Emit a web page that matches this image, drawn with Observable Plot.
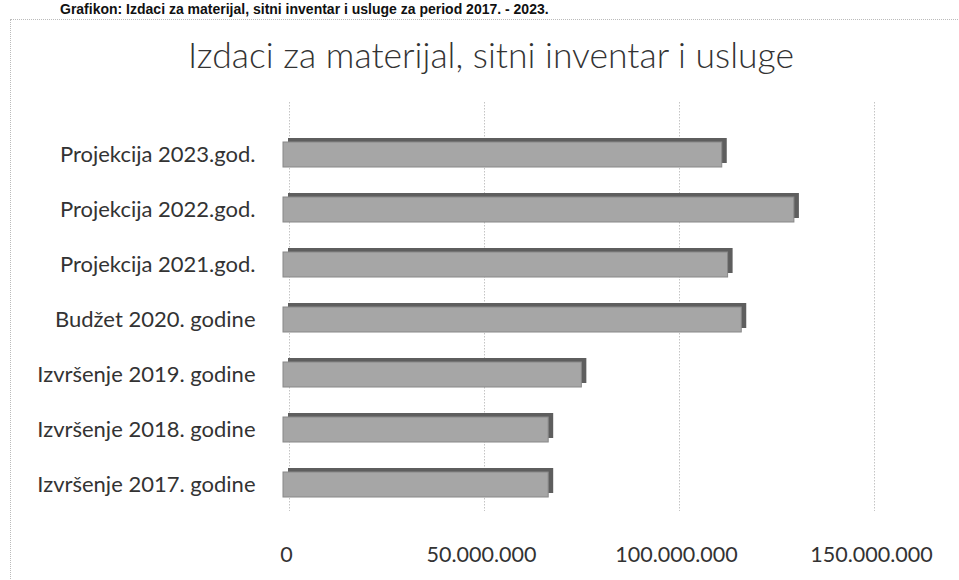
<!DOCTYPE html>
<html>
<head>
<meta charset="utf-8">
<script src="https://cdn.jsdelivr.net/npm/d3@7"></script>
<script src="https://cdn.jsdelivr.net/npm/@observablehq/plot@0.6"></script>
<style>
  html, body { margin: 0; padding: 0; background: #fff; overflow: hidden; }
  body { width: 959px; height: 580px; position: relative; }
  #cut { position: absolute; top: 1px; left: 60px; white-space: nowrap;
         font: bold 14px "Liberation Sans", Arial, sans-serif; color: #111; }
  #frame { position: absolute; left: 10px; top: 19px; width: 960px; height: 580px;
           border: 1px dotted #bbb; box-sizing: border-box; }
  #title { position: absolute; top: 33px; left: 0; width: 982px; text-align: center;
           font: 300 35.5px Lato, "Open Sans", sans-serif; color: #333; }
  #chart { position: absolute; top: 0; left: 0; }
</style>
</head>
<body>
<div id="cut">Grafikon: Izdaci za materijal, sitni inventar i usluge za period 2017. - 2023.</div>
<div id="frame"></div>
<div id="title">Izdaci za materijal, sitni inventar i usluge</div>
<div id="chart"></div>
<script>
const categories = [
  "Projekcija 2023.god.",
  "Projekcija 2022.god.",
  "Projekcija 2021.god.",
  "Budžet 2020. godine",
  "Izvršenje 2019. godine",
  "Izvršenje 2018. godine",
  "Izvršenje 2017. godine"
];
const values = [112500000, 131000000, 114000000, 117500000, 76500000, 68000000, 68000000];
const ticks = [0, 50000000, 100000000, 150000000];

const data = categories.map((c, i) => ({category: c, value: values[i]}));
const fmt = d3.formatLocale({decimal: ",", thousands: ".", grouping: [3], currency: ["", ""]}).format(",");

const chart = Plot.plot({
  width: 959,
  height: 580,
  marginLeft: 283,
  marginRight: 91,
  marginTop: 110,
  marginBottom: 51,
  style: {fontFamily: "Lato, 'Open Sans', sans-serif", fontSize: "22px", color: "#333", background: "transparent"},
  x: {domain: [0, 150000000], label: null},
  y: {domain: categories, padding: 0.55, label: null},
  marks: [
    Plot.axisX({ticks: ticks, tickFormat: fmt, tickSize: 0, tickPadding: 17, fontSize: "21.5px", dx: 3}),
    Plot.axisY({tickSize: 0, tickPadding: 28}),
    Plot.ruleX(ticks, {x: d => d, stroke: "#c4c4c4", strokeDasharray: "1.5,1.5", dx: 6, insetTop: -8, insetBottom: 18}),
    Plot.barX(data, {x: "value", y: "category", fill: "#5e5e5e", dx: 5, dy: -4}),
    Plot.barX(data, {x: "value", y: "category", fill: "#a6a6a6", stroke: "#888", strokeWidth: 1})
  ]
});
document.getElementById("chart").appendChild(chart);
</script>
</body>
</html>
